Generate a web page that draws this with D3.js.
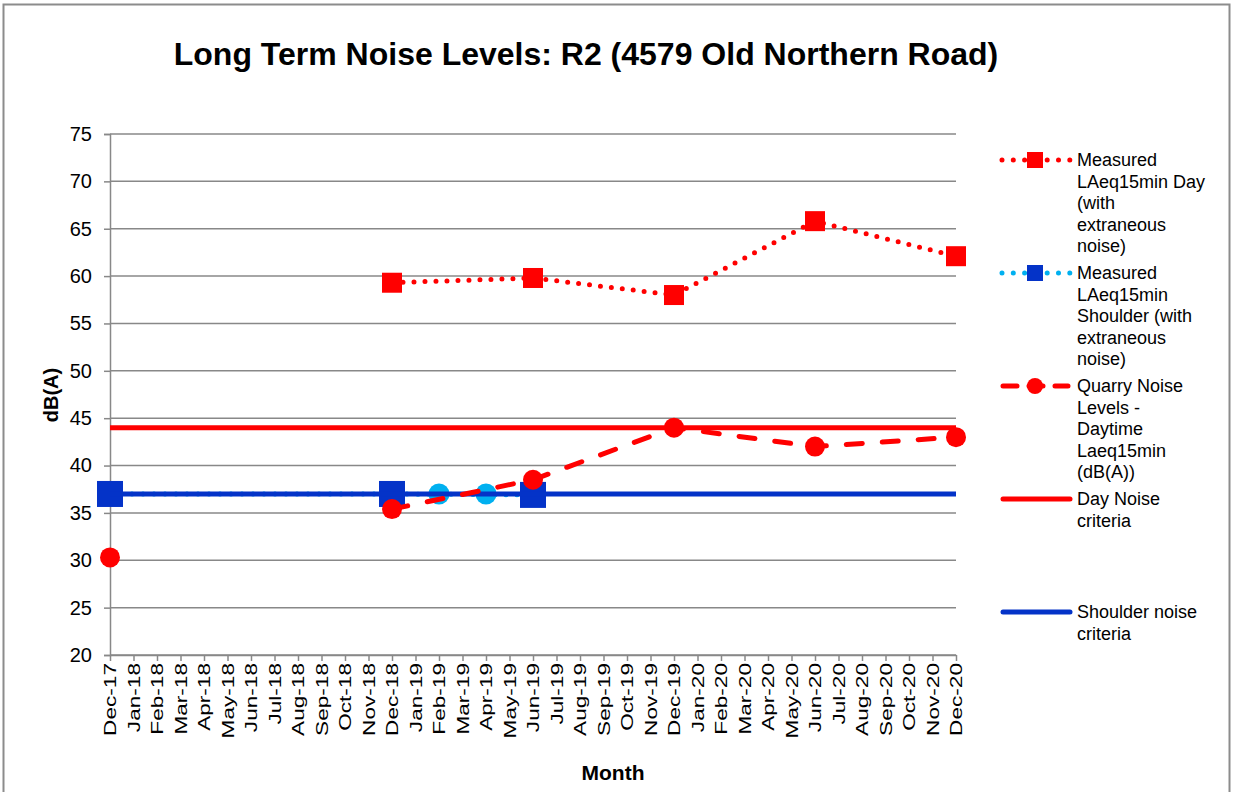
<!DOCTYPE html>
<html>
<head>
<meta charset="utf-8">
<script src="https://cdn.jsdelivr.net/npm/d3@7"></script>
<style>
  body { margin: 0; background: #fff; }
  text { font-family: "Liberation Sans", Arial, sans-serif; }
</style>
</head>
<body>
<div id="chart"></div>
<script>

// month categories along the x axis
var months = ["Dec-17","Jan-18","Feb-18","Mar-18","Apr-18","May-18","Jun-18","Jul-18","Aug-18","Sep-18","Oct-18","Nov-18",
  "Dec-18","Jan-19","Feb-19","Mar-19","Apr-19","May-19","Jun-19","Jul-19","Aug-19","Sep-19","Oct-19","Nov-19",
  "Dec-19","Jan-20","Feb-20","Mar-20","Apr-20","May-20","Jun-20","Jul-20","Aug-20","Sep-20","Oct-20","Nov-20","Dec-20"];
var yTicks = [20,25,30,35,40,45,50,55,60,65,70,75];

var dayMonths = ["Dec-18","Jun-19","Dec-19","Jun-20","Dec-20"];
var dayValues = [59.3, 59.8, 58.0, 65.8, 62.1];

var shoulderMonths = ["Dec-17","Dec-18","Jun-19"];
var shoulderValues = [37, 37, 36.9];

var shoulderExtraMonths = ["Feb-19","Apr-19","Jun-19"];
var shoulderExtraValues = [37, 37, 37];

var quarryMonths = ["Dec-17","Dec-18","Jun-19","Dec-19","Jun-20","Dec-20"];
var quarryValues = [30.3, 35.4, 38.5, 44.0, 42.0, 43.0];

var dayCriteria = 44;
var shoulderCriteria = 37;

var red = "#ff0000", blue = "#0433c8", lightBlue = "#00b0f0", grid = "#888888";

var W = 1235, H = 792;
var margin = {top: 134, right: 279, bottom: 137, left: 110},
    width = W - margin.left - margin.right,
    height = H - margin.top - margin.bottom;

var svg = d3.select("#chart")
  .append("svg")
    .attr("width", W)
    .attr("height", H);

// outer frame
svg.append("rect")
  .attr("x", 3.5).attr("y", 4.5)
  .attr("width", 1226).attr("height", 800)
  .attr("fill", "none")
  .attr("stroke", "#8c8c8c")
  .attr("stroke-width", 2);

svg.append("text")
  .attr("x", 586).attr("y", 65)
  .attr("text-anchor", "middle")
  .attr("font-size", "32px")
  .attr("font-weight", "bold")
  .text("Long Term Noise Levels: R2 (4579 Old Northern Road)");

var g = svg.append("g")
  .attr("transform", "translate(" + margin.left + "," + margin.top + ")");

var x = d3.scalePoint()
  .domain(months)
  .range([0, width]);

var y = d3.scaleLinear()
  .domain([20, 75])
  .range([height, 0]);

// gridlines
g.append("g")
  .selectAll("line")
  .data(yTicks)
  .enter()
  .append("line")
    .attr("x1", 0).attr("x2", width)
    .attr("y1", d => y(d)).attr("y2", d => y(d))
    .attr("stroke", grid)
    .attr("stroke-width", 1.5);

var yAxis = g.append("g")
  .call(d3.axisLeft(y).tickValues(yTicks).tickSize(6).tickPadding(12));
yAxis.select(".domain").attr("stroke", grid).attr("stroke-width", 1.5);
yAxis.selectAll(".tick line").attr("stroke", grid).attr("stroke-width", 1.5);
yAxis.selectAll(".tick text")
  .attr("font-size", "20px")
  .attr("font-family", "Liberation Sans, Arial, sans-serif")
  .attr("fill", "#000");

var xAxis = g.append("g")
  .attr("transform", "translate(0," + height + ")")
  .call(d3.axisBottom(x).tickSize(6).tickSizeOuter(0));
xAxis.select(".domain").attr("stroke", grid).attr("stroke-width", 1.5);
xAxis.selectAll(".tick line").attr("stroke", grid).attr("stroke-width", 1.5);
xAxis.selectAll(".tick text")
  .attr("font-size", "17px")
  .attr("font-family", "Liberation Sans, Arial, sans-serif")
  .attr("fill", "#000")
  .attr("text-anchor", "end")
  .attr("dy", "0.35em")
  .attr("x", 0).attr("y", 0)
  .attr("transform", "translate(0,8) rotate(-90) scale(1.33,1)");

svg.append("text")
  .attr("transform", "translate(58,395) rotate(-90)")
  .attr("text-anchor", "middle")
  .attr("font-size", "20px")
  .attr("font-weight", "bold")
  .text("dB(A)");

svg.append("text")
  .attr("x", 613).attr("y", 780)
  .attr("text-anchor", "middle")
  .attr("font-size", "21px")
  .attr("font-weight", "bold")
  .text("Month");

function pts(ms, vs) { return ms.map((m, i) => ({m: m, v: vs[i]})); }

var line = d3.line()
  .x(d => x(d.m))
  .y(d => y(d.v));

// shoulder extra points (under the criteria line)
g.selectAll(".lb")
  .data(pts(shoulderExtraMonths, shoulderExtraValues))
  .enter()
  .append("circle")
    .attr("cx", d => x(d.m))
    .attr("cy", d => y(d.v))
    .attr("r", 10.5)
    .attr("fill", lightBlue);

// shoulder measured
var shoulder = pts(shoulderMonths, shoulderValues);
g.append("path")
  .datum(shoulder)
  .attr("d", line)
  .attr("fill", "none")
  .attr("stroke", lightBlue)
  .attr("stroke-width", 5)
  .attr("stroke-linecap", "round")
  .attr("stroke-dasharray", "0 11");
g.selectAll(".bs")
  .data(shoulder)
  .enter()
  .append("rect")
    .attr("x", d => x(d.m) - 13)
    .attr("y", d => y(d.v) - 13)
    .attr("width", 26).attr("height", 26)
    .attr("fill", blue);

// criteria lines
g.append("line")
  .attr("x1", 0).attr("x2", width)
  .attr("y1", y(shoulderCriteria)).attr("y2", y(shoulderCriteria))
  .attr("stroke", blue).attr("stroke-width", 5);
g.append("line")
  .attr("x1", 0).attr("x2", width)
  .attr("y1", y(dayCriteria)).attr("y2", y(dayCriteria))
  .attr("stroke", red).attr("stroke-width", 5);

// measured day
var day = pts(dayMonths, dayValues);
g.append("path")
  .datum(day)
  .attr("d", line)
  .attr("fill", "none")
  .attr("stroke", red)
  .attr("stroke-width", 5)
  .attr("stroke-linecap", "round")
  .attr("stroke-dasharray", "0 11");
g.selectAll(".rs")
  .data(day)
  .enter()
  .append("rect")
    .attr("x", d => x(d.m) - 10)
    .attr("y", d => y(d.v) - 10)
    .attr("width", 20).attr("height", 20)
    .attr("fill", red);

// quarry noise (Dec-17 point stands alone)
var quarry = pts(quarryMonths, quarryValues);
g.append("path")
  .datum(quarry.slice(1))
  .attr("d", line)
  .attr("fill", "none")
  .attr("stroke", red)
  .attr("stroke-width", 5)
  .attr("stroke-linecap", "round")
  .attr("stroke-dasharray", "16 20");
g.selectAll(".rc")
  .data(quarry)
  .enter()
  .append("circle")
    .attr("cx", d => x(d.m))
    .attr("cy", d => y(d.v))
    .attr("r", 10)
    .attr("fill", red);

// legend
var legendItems = [
  {lines: ["Measured","LAeq15min Day","(with","extraneous","noise)"], y: 160, kind: "day"},
  {lines: ["Measured","LAeq15min","Shoulder (with","extraneous","noise)"], y: 273, kind: "shoulder"},
  {lines: ["Quarry Noise","Levels -","Daytime","Laeq15min","(dB(A))"], y: 386, kind: "quarry"},
  {lines: ["Day Noise","criteria"], y: 499, kind: "dayc"},
  {lines: ["Shoulder noise","criteria"], y: 612, kind: "shc"}
];

var lg = svg.append("g");
legendItems.forEach(function(it) {
  var row = lg.append("g").attr("transform", "translate(1000," + it.y + ")");
  if (it.kind == "day" || it.kind == "shoulder") {
    row.append("line")
      .attr("x1", 2).attr("x2", 70).attr("y1", 0).attr("y2", 0)
      .attr("stroke", it.kind == "day" ? red : lightBlue)
      .attr("stroke-width", 5)
      .attr("stroke-linecap", "round")
      .attr("stroke-dasharray", "0 11.3");
    row.append("rect")
      .attr("x", 27).attr("y", -8).attr("width", 16).attr("height", 16)
      .attr("fill", it.kind == "day" ? red : blue);
  } else if (it.kind == "quarry") {
    row.append("line")
      .attr("x1", 3).attr("x2", 68).attr("y1", 0).attr("y2", 0)
      .attr("stroke", red).attr("stroke-width", 5)
      .attr("stroke-linecap", "round")
      .attr("stroke-dasharray", "14 12");
    row.append("circle").attr("cx", 35).attr("cy", 0).attr("r", 8).attr("fill", red);
  } else {
    row.append("line")
      .attr("x1", 3).attr("x2", 70).attr("y1", 0).attr("y2", 0)
      .attr("stroke", it.kind == "dayc" ? red : blue)
      .attr("stroke-width", 5)
      .attr("stroke-linecap", "round");
  }
  row.selectAll("text")
    .data(it.lines)
    .enter()
    .append("text")
      .attr("x", 77)
      .attr("y", (d, i) => i * 21.5 + 6)
      .attr("font-size", "18px")
      .text(d => d);
});

</script>
</body>
</html>
